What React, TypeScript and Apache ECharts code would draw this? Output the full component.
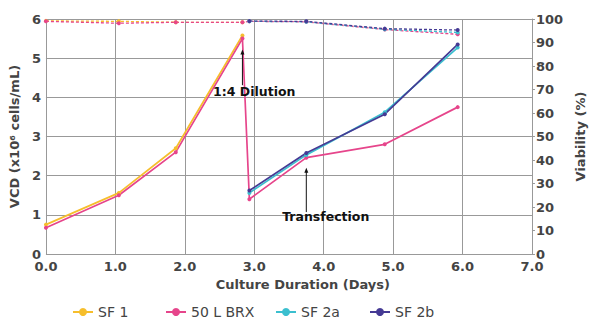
import React, { useEffect, useRef } from "react";
import * as echarts from "echarts";

// Culture duration (days)
const daysPre = [0, 1.05, 1.87, 2.83];
const daysBRX = [0, 1.05, 1.87, 2.83, 2.93, 3.75, 4.88, 5.93];
const daysPost = [2.93, 3.75, 4.88, 5.93];

// VCD (x10^6 cells/mL)
const vcdSF1 = [0.75, 1.56, 2.7, 5.58];
const vcdBRX = [0.67, 1.5, 2.6, 5.5, 1.4, 2.46, 2.8, 3.75];
const vcdSF2a = [1.56, 2.53, 3.62, 5.27];
const vcdSF2b = [1.62, 2.58, 3.57, 5.35];

// Viability (%)
const viaSF1 = [99.2, 99.0, 98.6, 98.6];
const viaBRX = [99.0, 98.2, 98.6, 98.6, 99.0, 98.8, 95.5, 93.5];
const viaSF2a = [99.0, 98.8, 95.6, 94.3];
const viaSF2b = [99.1, 99.0, 95.9, 95.3];

const names = ["SF 1", "50 L BRX", "SF 2a", "SF 2b"];
const colors = ["#F6BE2C", "#E6458B", "#3BBFCF", "#453A94"];

// Annotations: [day, vcd]
const dilutionArrow = { x: 2.83, from: 4.31, to: 5.22, textX: 3.0, textY: 4.16, label: "1:4 Dilution" };
const transfectionArrow = { x: 3.75, from: 1.07, to: 2.2, textX: 4.03, textY: 0.95, label: "Transfection" };

const FONT = "DejaVu Sans";

const zip = (xs: number[], ys: number[]) => xs.map((x, i) => [x, ys[i]]);

export default function App() {
  const ref = useRef<HTMLDivElement>(null);
  useEffect(() => {
    if (!ref.current) return;
    const chart = echarts.init(ref.current, undefined, { renderer: "svg" });
    const vcdSets = [zip(daysPre, vcdSF1), zip(daysBRX, vcdBRX), zip(daysPost, vcdSF2a), zip(daysPost, vcdSF2b)];
    const viaSets = [zip(daysPre, viaSF1), zip(daysBRX, viaBRX), zip(daysPost, viaSF2a), zip(daysPost, viaSF2b)];
    const series: any[] = [];
    viaSets.forEach((d, i) => {
      series.push({
        type: "line",
        name: names[i] + " viability",
        yAxisIndex: 1,
        data: d,
        symbol: "circle",
        symbolSize: 4,
        lineStyle: { color: colors[i], width: 1.3, type: [3, 2] },
        itemStyle: { color: colors[i] },
        z: 2,
      });
    });
    vcdSets.forEach((d, i) => {
      series.push({
        type: "line",
        name: names[i],
        yAxisIndex: 0,
        data: d,
        symbol: "circle",
        symbolSize: 4,
        lineStyle: { color: colors[i], width: 1.7 },
        itemStyle: { color: colors[i] },
        z: 3,
      });
    });
    const legendLefts = [72, 165, 275, 369];
    const axisLabel = { fontFamily: FONT, fontSize: 13, lineHeight: 12, fontWeight: "bold", color: "#444" };
    const nameStyle = { fontFamily: FONT, fontSize: 13, fontWeight: "bold", color: "#444" };
    chart.setOption({
      animation: false,
      grid: { left: 42, right: 46, top: 19, bottom: 66 },
      legend: names.map((n, i) => ({
        data: [n],
        left: legendLefts[i],
        top: 305,
        padding: 0,
        itemWidth: 20,
        itemHeight: 10,
        itemGap: 0,
        textStyle: { fontFamily: FONT, fontSize: 14, color: "#444" },
        selectedMode: false,
      })),
      xAxis: {
        type: "value",
        min: 0,
        max: 7,
        interval: 1,
        axisLine: { show: false },
        axisTick: { show: false },
        axisLabel: { ...axisLabel, margin: 6, formatter: (v: number) => v.toFixed(1) },
        splitLine: { show: true, lineStyle: { color: "#999", width: 1 } },
      },
      yAxis: [
        {
          type: "value",
          min: 0,
          max: 6,
          interval: 1,
          name: "VCD (x10⁶ cells/mL)",
          nameLocation: "middle",
          nameGap: 22,
          nameTextStyle: nameStyle,
          axisLine: { show: false },
          axisTick: { show: false },
          axisLabel: { ...axisLabel, margin: 5 },
          splitLine: { show: true, lineStyle: { color: "#999", width: 1 } },
        },
        {
          type: "value",
          min: 0,
          max: 100,
          interval: 10,
          position: "right",
          name: "Viability (%)",
          nameLocation: "middle",
          nameGap: 30,
          nameRotate: 90,
          nameTextStyle: nameStyle,
          axisLine: { show: true, lineStyle: { color: "#999", width: 1 } },
          axisTick: { show: true, length: 3, lineStyle: { color: "#999" } },
          axisLabel: { ...axisLabel, margin: 4 },
          splitLine: { show: false },
        },
      ],
      series,
    });
    const p = (x: number, y: number) => chart.convertToPixel({ xAxisIndex: 0, yAxisIndex: 0 }, [x, y]) as number[];
    const graphics: any[] = [];
    [dilutionArrow, transfectionArrow].forEach((a) => {
      const top = p(a.x, a.to);
      const bot = p(a.x, a.from);
      const t = p(a.textX, a.textY);
      graphics.push({
        type: "line",
        shape: { x1: bot[0], y1: bot[1], x2: top[0], y2: top[1] + 3 },
        style: { stroke: "#111", lineWidth: 1 },
        z: 10,
      });
      graphics.push({
        type: "polygon",
        shape: { points: [[top[0], top[1]], [top[0] - 2, top[1] + 5], [top[0] + 2, top[1] + 5]] },
        style: { fill: "#111" },
        z: 10,
      });
      graphics.push({
        type: "text",
        x: t[0],
        y: t[1],
        style: {
          text: a.label,
          fontFamily: FONT,
          fontSize: 12.5,
          fontWeight: "bold",
          fill: "#111",
          align: "center",
          verticalAlign: "middle",
        },
        z: 10,
      });
    });
    const xName = p(3.7, 0);
    graphics.push({
      type: "text",
      x: xName[0],
      y: 284,
      style: {
        text: "Culture Duration (Days)",
        fontFamily: FONT,
        fontSize: 13,
        fontWeight: "bold",
        fill: "#444",
        align: "center",
        verticalAlign: "middle",
      },
    });
    chart.setOption({ graphic: graphics });
    return () => chart.dispose();
  }, []);
  return <div ref={ref} style={{ width: 595, height: 320, position: "absolute", left: 0, top: 0 }} />;
}
